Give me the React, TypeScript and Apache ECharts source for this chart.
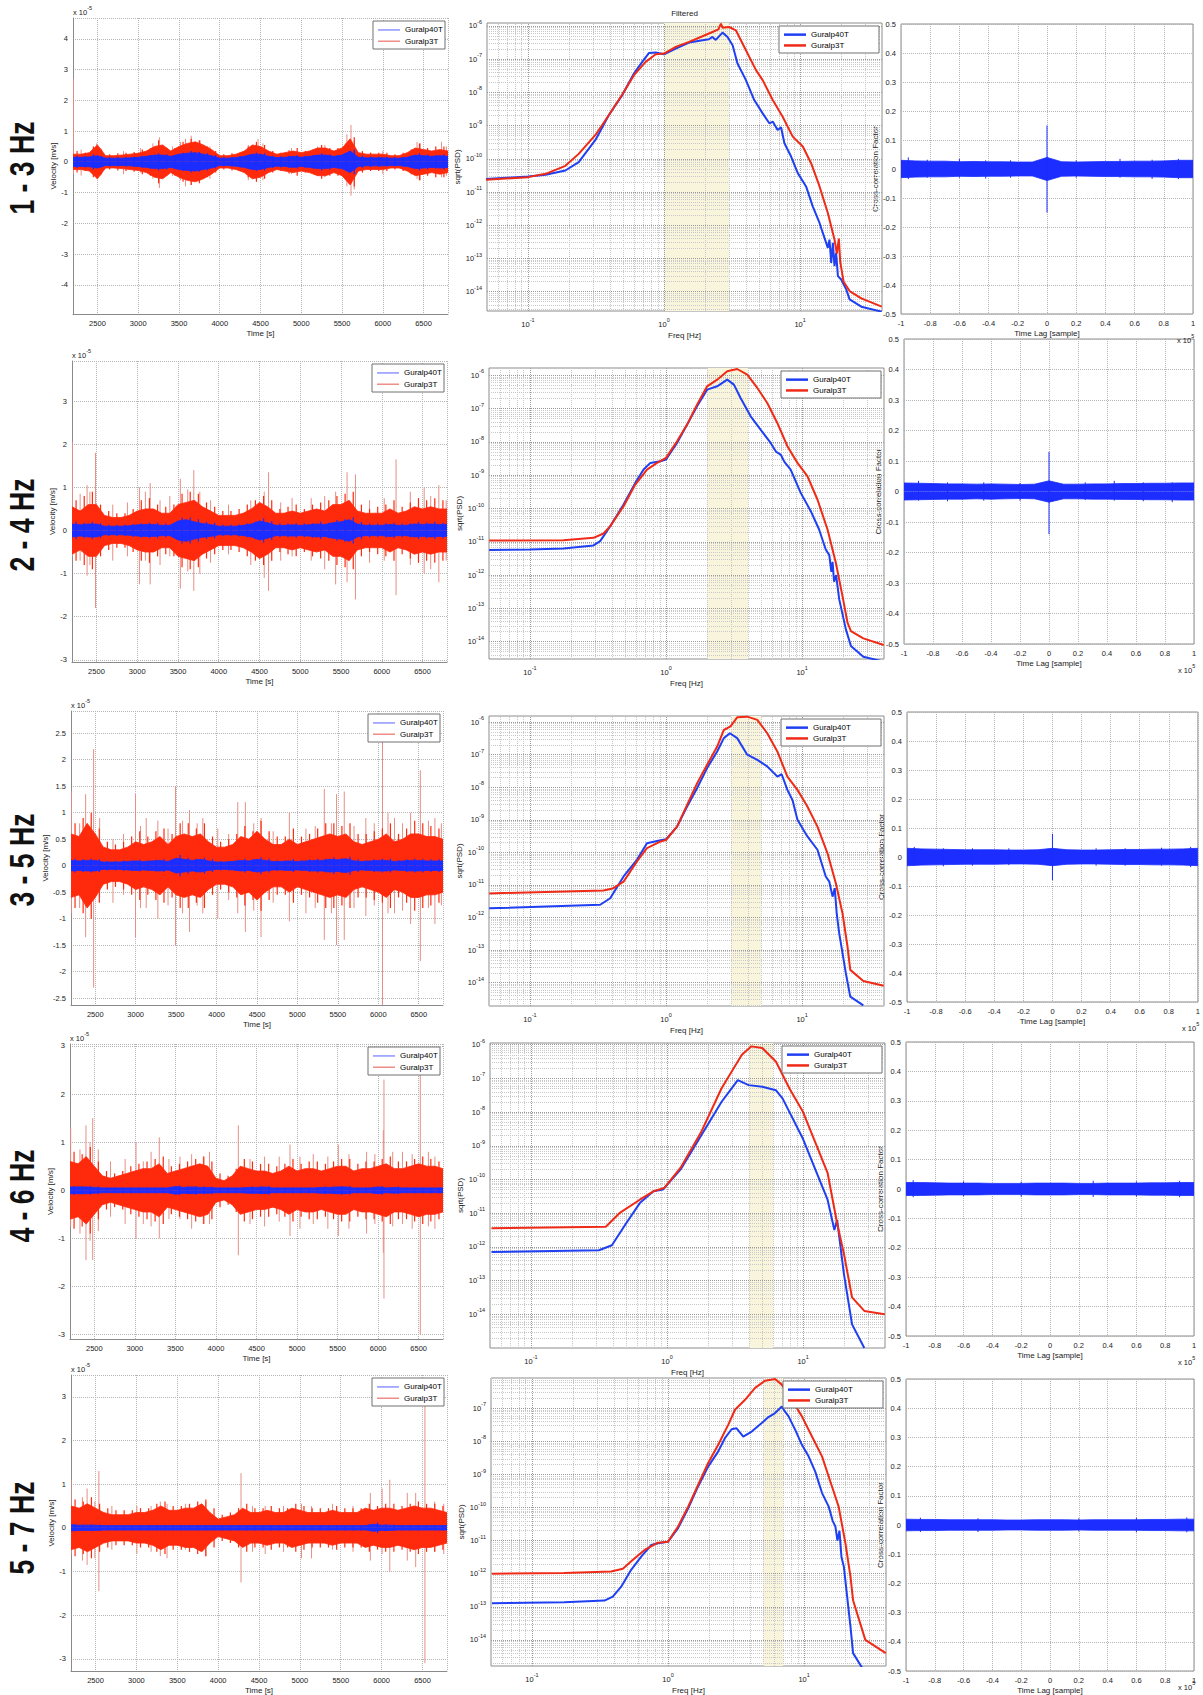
import React, { useEffect, useRef } from 'react';
import * as echarts from 'echarts';

// ---------------- DATA ----------------
const ROW_LABELS = ['1 - 3 Hz', '2 - 4 Hz', '3 - 5 Hz', '4 - 6 Hz', '5 - 7 Hz'];
const BANDS = [[1, 3], [2, 4], [3, 5], [4, 6], [5, 7]];
const SERIES_NAMES = ['Guralp40T', 'Guralp3T'];

// time grid of the velocity envelopes [s]
const TIME = [2200, 2300, 2400, 2500, 2600, 2700, 2800, 2900, 3000, 3100, 3200, 3300, 3400, 3500, 3600, 3700, 3800, 3900, 4000, 4100, 4200, 4300, 4400, 4500, 4600, 4700, 4800, 4900, 5000, 5100, 5200, 5300, 5400, 5500, 5600, 5700, 5800, 5900, 6000, 6100, 6200, 6300, 6400, 6500, 6600, 6700, 6800];
// time grid of the local peaks between envelope samples [s]
const PEAK_TIME = [2250, 2350, 2450, 2550, 2650, 2750, 2850, 2950, 3050, 3150, 3250, 3350, 3450, 3550, 3650, 3750, 3850, 3950, 4050, 4150, 4250, 4350, 4450, 4550, 4650, 4750, 4850, 4950, 5050, 5150, 5250, 5350, 5450, 5550, 5650, 5750, 5850, 5950, 6050, 6150, 6250, 6350, 6450, 6550, 6650, 6750];

// velocity envelopes (x 1e-5 m/s)
const RED_ENV_1 = [0.25, 0.25, 0.3, 0.55, 0.2, 0.2, 0.22, 0.25, 0.28, 0.35, 0.5, 0.55, 0.35, 0.5, 0.6, 0.65, 0.55, 0.4, 0.2, 0.2, 0.25, 0.35, 0.55, 0.5, 0.35, 0.25, 0.3, 0.35, 0.3, 0.35, 0.45, 0.45, 0.35, 0.45, 0.75, 0.3, 0.25, 0.25, 0.25, 0.2, 0.2, 0.3, 0.45, 0.4, 0.35, 0.4, 0.35];
const BLUE_ENV_1 = [0.15, 0.15, 0.16, 0.2, 0.12, 0.12, 0.12, 0.13, 0.15, 0.18, 0.22, 0.22, 0.18, 0.25, 0.28, 0.3, 0.25, 0.2, 0.12, 0.12, 0.14, 0.18, 0.25, 0.25, 0.18, 0.14, 0.15, 0.18, 0.15, 0.18, 0.22, 0.22, 0.18, 0.22, 0.35, 0.15, 0.13, 0.13, 0.13, 0.12, 0.12, 0.15, 0.22, 0.2, 0.18, 0.2, 0.18];
const RED_PEAKS_1 = [0.35, 0.3, 0.5, 0.4, 0.25, 0.28, 0.3, 0.32, 0.4, 0.45, 0.7, 0.45, 0.45, 0.65, 0.75, 0.7, 0.5, 0.35, 0.25, 0.28, 0.3, 0.5, 0.65, 0.55, 0.35, 0.3, 0.38, 0.45, 0.35, 0.4, 0.55, 0.45, 0.45, 0.6, 0.8, 0.35, 0.3, 0.3, 0.3, 0.25, 0.3, 0.4, 0.6, 0.45, 0.5, 0.5];
const BLUE_PEAKS_1 = [0.2, 0.18, 0.25, 0.18, 0.15, 0.15, 0.16, 0.17, 0.2, 0.22, 0.28, 0.25, 0.22, 0.3, 0.35, 0.32, 0.28, 0.22, 0.15, 0.16, 0.18, 0.22, 0.3, 0.28, 0.2, 0.18, 0.2, 0.22, 0.2, 0.22, 0.28, 0.25, 0.22, 0.28, 0.4, 0.2, 0.17, 0.17, 0.16, 0.15, 0.16, 0.2, 0.28, 0.24, 0.22, 0.25];
const RED_SPIKES_1 = [[2205, 2.7, 0.4], [2300, 0.4, 0.45], [2490, 0.6, 0.55], [2540, 0.45, 0.45], [2820, 0.35, 0.4], [3030, 0.45, 0.35], [3180, 0.6, 0.55], [3260, 0.8, 0.85], [3420, 0.5, 0.45], [3520, 0.65, 0.6], [3580, 0.75, 0.8], [3650, 0.85, 0.75], [3760, 0.7, 0.6], [3880, 0.5, 0.55], [4350, 0.55, 0.6], [4470, 0.75, 0.45], [4530, 0.6, 0.6], [4880, 0.45, 0.4], [5200, 0.5, 0.45], [5290, 0.55, 0.5], [5560, 0.9, 0.8], [5610, 1.2, 1.1], [5650, 0.7, 0.9], [6000, 0.35, 0.4], [6420, 0.65, 0.55], [6460, 0.6, 0.6], [6720, 0.65, 0.5], [6780, 0.5, 0.45]];

const RED_ENV_2 = [0.55, 0.45, 0.6, 0.6, 0.35, 0.3, 0.3, 0.35, 0.45, 0.5, 0.5, 0.4, 0.4, 0.6, 0.65, 0.7, 0.55, 0.45, 0.35, 0.35, 0.35, 0.4, 0.5, 0.65, 0.55, 0.4, 0.4, 0.45, 0.4, 0.45, 0.5, 0.45, 0.6, 0.6, 0.7, 0.45, 0.4, 0.4, 0.4, 0.5, 0.4, 0.45, 0.55, 0.5, 0.55, 0.5, 0.5];
const BLUE_ENV_2 = [0.15, 0.13, 0.15, 0.15, 0.1, 0.1, 0.1, 0.11, 0.13, 0.14, 0.14, 0.12, 0.12, 0.22, 0.25, 0.2, 0.16, 0.14, 0.1, 0.1, 0.1, 0.12, 0.15, 0.22, 0.18, 0.12, 0.12, 0.13, 0.12, 0.13, 0.15, 0.14, 0.18, 0.2, 0.25, 0.15, 0.12, 0.12, 0.12, 0.14, 0.12, 0.12, 0.15, 0.14, 0.15, 0.14, 0.14];
const RED_PEAKS_2 = [0.7, 0.8, 0.9, 0.6, 0.45, 0.4, 0.4, 0.5, 0.7, 0.75, 0.6, 0.55, 0.6, 0.85, 0.9, 0.85, 0.65, 0.55, 0.45, 0.45, 0.5, 0.6, 0.7, 0.8, 0.7, 0.5, 0.55, 0.6, 0.5, 0.6, 0.65, 0.7, 0.8, 0.85, 0.9, 0.6, 0.5, 0.55, 0.6, 0.7, 0.55, 0.65, 0.75, 0.7, 0.75, 0.7];
const BLUE_PEAKS_2 = [0.2, 0.18, 0.2, 0.17, 0.13, 0.13, 0.13, 0.15, 0.17, 0.18, 0.18, 0.16, 0.17, 0.3, 0.3, 0.26, 0.2, 0.18, 0.13, 0.13, 0.14, 0.16, 0.2, 0.28, 0.22, 0.16, 0.16, 0.17, 0.16, 0.17, 0.2, 0.18, 0.24, 0.26, 0.3, 0.2, 0.16, 0.16, 0.17, 0.18, 0.16, 0.16, 0.2, 0.18, 0.2, 0.18];
const RED_SPIKES_2 = [[2205, 2.05, 0.6], [2300, 0.85, 0.7], [2385, 1.05, 1.05], [2420, 0.9, 0.8], [2488, 1.8, 1.8], [2700, 0.6, 0.7], [2880, 0.65, 0.6], [3027, 1.0, 1.25], [3100, 0.9, 0.7], [3159, 1.1, 1.25], [3280, 0.7, 0.8], [3400, 0.8, 0.6], [3529, 1.2, 1.35], [3620, 0.95, 0.95], [3694, 1.4, 1.4], [3768, 0.9, 1.0], [3900, 0.7, 0.75], [4120, 0.6, 0.55], [4393, 0.7, 0.8], [4558, 0.9, 1.1], [4611, 1.35, 1.4], [4760, 0.65, 0.7], [4900, 0.75, 0.6], [5134, 0.75, 0.7], [5300, 0.8, 0.9], [5434, 0.9, 1.25], [5574, 1.35, 1.2], [5677, 1.3, 1.6], [5850, 0.7, 0.75], [6030, 0.75, 0.7], [6175, 1.65, 1.5], [6350, 0.9, 0.8], [6520, 1.0, 1.0], [6600, 0.8, 0.9], [6700, 1.05, 1.2], [6790, 0.7, 0.7]];

const RED_ENV_3 = [0.6, 0.55, 0.8, 0.6, 0.35, 0.3, 0.3, 0.35, 0.45, 0.4, 0.45, 0.55, 0.4, 0.55, 0.6, 0.55, 0.6, 0.45, 0.35, 0.35, 0.4, 0.55, 0.5, 0.65, 0.5, 0.4, 0.4, 0.5, 0.4, 0.45, 0.5, 0.55, 0.6, 0.55, 0.6, 0.45, 0.4, 0.45, 0.5, 0.6, 0.45, 0.5, 0.6, 0.6, 0.55, 0.55, 0.5];
const BLUE_ENV_3 = [0.1, 0.09, 0.1, 0.1, 0.07, 0.07, 0.07, 0.08, 0.09, 0.08, 0.09, 0.1, 0.08, 0.14, 0.12, 0.1, 0.12, 0.09, 0.07, 0.07, 0.08, 0.1, 0.09, 0.12, 0.1, 0.08, 0.08, 0.09, 0.08, 0.09, 0.1, 0.1, 0.12, 0.11, 0.13, 0.09, 0.08, 0.09, 0.1, 0.1, 0.08, 0.09, 0.1, 0.1, 0.09, 0.09, 0.09];
const RED_PEAKS_3 = [0.8, 0.9, 1.0, 0.7, 0.45, 0.4, 0.45, 0.55, 0.65, 0.55, 0.65, 0.7, 0.6, 0.8, 0.8, 0.7, 0.8, 0.55, 0.45, 0.5, 0.6, 0.75, 0.65, 0.85, 0.65, 0.55, 0.55, 0.7, 0.55, 0.6, 0.7, 0.8, 0.8, 0.75, 0.8, 0.6, 0.6, 0.65, 0.7, 0.8, 0.6, 0.7, 0.85, 0.8, 0.75, 0.7];
const BLUE_PEAKS_3 = [0.13, 0.12, 0.13, 0.12, 0.09, 0.09, 0.1, 0.1, 0.11, 0.1, 0.11, 0.12, 0.11, 0.2, 0.15, 0.13, 0.15, 0.12, 0.09, 0.09, 0.1, 0.13, 0.12, 0.16, 0.13, 0.1, 0.1, 0.12, 0.1, 0.12, 0.13, 0.13, 0.16, 0.14, 0.17, 0.12, 0.1, 0.12, 0.13, 0.13, 0.1, 0.12, 0.13, 0.13, 0.12, 0.12];
const RED_SPIKES_3 = [[2204, 1.4, 0.9], [2307, 0.8, 0.8], [2381, 1.35, 1.35], [2480, 2.2, 2.3], [2554, 0.9, 0.6], [2719, 0.5, 0.7], [2850, 0.6, 0.55], [2998, 1.35, 1.35], [3060, 0.75, 0.8], [3130, 0.9, 0.8], [3274, 0.85, 1.0], [3400, 0.7, 0.75], [3492, 1.5, 1.5], [3580, 0.85, 0.9], [3665, 1.05, 1.25], [3760, 0.8, 0.75], [3830, 0.9, 0.9], [4015, 0.7, 1.0], [4150, 0.6, 0.65], [4262, 1.2, 0.9], [4356, 1.2, 1.25], [4460, 0.8, 0.85], [4550, 0.9, 1.35], [4700, 0.65, 0.7], [4900, 1.0, 1.05], [5105, 0.7, 0.9], [5220, 0.75, 0.8], [5332, 1.45, 1.4], [5420, 0.8, 0.9], [5484, 1.35, 1.5], [5579, 1.4, 1.4], [5700, 0.75, 0.8], [5846, 0.9, 0.95], [5950, 0.8, 0.75], [6052, 2.6, 2.65], [6120, 1.0, 0.9], [6200, 0.9, 0.9], [6300, 0.8, 0.85], [6400, 1.0, 1.1], [6520, 1.8, 1.8], [6620, 0.85, 0.8], [6700, 0.9, 1.1], [6780, 0.8, 0.75]];

const RED_ENV_4 = [0.6, 0.55, 0.7, 0.5, 0.3, 0.25, 0.3, 0.35, 0.4, 0.45, 0.45, 0.55, 0.35, 0.4, 0.45, 0.5, 0.55, 0.5, 0.25, 0.2, 0.3, 0.5, 0.45, 0.4, 0.4, 0.35, 0.4, 0.5, 0.4, 0.45, 0.45, 0.4, 0.45, 0.5, 0.5, 0.4, 0.45, 0.45, 0.5, 0.55, 0.45, 0.45, 0.5, 0.55, 0.5, 0.5, 0.45];
const BLUE_ENV_4 = [0.07, 0.07, 0.07, 0.06, 0.05, 0.05, 0.05, 0.05, 0.05, 0.05, 0.05, 0.05, 0.05, 0.08, 0.06, 0.07, 0.06, 0.06, 0.05, 0.05, 0.05, 0.05, 0.06, 0.06, 0.07, 0.05, 0.05, 0.05, 0.05, 0.05, 0.05, 0.06, 0.06, 0.07, 0.07, 0.05, 0.05, 0.05, 0.07, 0.05, 0.06, 0.05, 0.05, 0.05, 0.05, 0.05, 0.05];
const RED_PEAKS_4 = [0.8, 0.75, 0.9, 0.6, 0.4, 0.35, 0.4, 0.5, 0.55, 0.6, 0.65, 0.7, 0.5, 0.55, 0.6, 0.65, 0.7, 0.6, 0.35, 0.3, 0.45, 0.65, 0.6, 0.55, 0.55, 0.5, 0.55, 0.65, 0.55, 0.6, 0.6, 0.55, 0.6, 0.65, 0.65, 0.55, 0.6, 0.6, 0.65, 0.7, 0.6, 0.6, 0.65, 0.7, 0.65, 0.6];
const BLUE_PEAKS_4 = [0.09, 0.08, 0.09, 0.08, 0.06, 0.06, 0.06, 0.06, 0.06, 0.06, 0.06, 0.06, 0.06, 0.1, 0.08, 0.09, 0.08, 0.08, 0.06, 0.06, 0.06, 0.06, 0.08, 0.08, 0.09, 0.06, 0.06, 0.06, 0.06, 0.06, 0.06, 0.08, 0.08, 0.09, 0.09, 0.06, 0.06, 0.07, 0.09, 0.06, 0.08, 0.06, 0.06, 0.06, 0.06, 0.06];
const RED_SPIKES_4 = [[2208, 1.3, 0.75], [2323, 0.85, 0.9], [2397, 1.35, 1.45], [2447, 1.0, 1.05], [2480, 1.5, 1.45], [2549, 0.85, 0.85], [2700, 0.6, 0.55], [2880, 0.65, 0.7], [3014, 1.0, 1.0], [3104, 0.6, 0.7], [3200, 0.8, 0.75], [3301, 1.1, 1.0], [3420, 0.65, 0.6], [3556, 0.7, 0.6], [3700, 0.75, 0.8], [3844, 0.7, 0.7], [3920, 0.8, 0.7], [4276, 1.35, 1.35], [4420, 0.65, 0.7], [4600, 0.7, 0.75], [4780, 0.7, 0.65], [4913, 0.95, 0.95], [5036, 0.7, 0.8], [5200, 0.75, 0.7], [5380, 0.7, 0.8], [5509, 0.95, 0.95], [5640, 0.75, 0.8], [5858, 0.8, 0.9], [5960, 0.75, 0.7], [6064, 1.25, 1.3], [6072, 2.3, 2.25], [6180, 0.8, 0.75], [6300, 0.8, 0.7], [6420, 0.75, 0.8], [6520, 2.9, 3.0], [6620, 0.8, 0.75], [6700, 0.7, 0.8]];

const RED_ENV_5 = [0.5, 0.45, 0.55, 0.45, 0.35, 0.3, 0.3, 0.3, 0.35, 0.35, 0.4, 0.5, 0.4, 0.4, 0.45, 0.45, 0.55, 0.35, 0.2, 0.25, 0.3, 0.45, 0.35, 0.35, 0.4, 0.35, 0.35, 0.45, 0.4, 0.35, 0.35, 0.35, 0.4, 0.35, 0.35, 0.35, 0.45, 0.4, 0.45, 0.45, 0.4, 0.45, 0.5, 0.45, 0.45, 0.4, 0.35];
const BLUE_ENV_5 = [0.07, 0.06, 0.06, 0.06, 0.05, 0.05, 0.05, 0.05, 0.05, 0.05, 0.05, 0.05, 0.05, 0.05, 0.05, 0.05, 0.05, 0.05, 0.05, 0.05, 0.05, 0.05, 0.05, 0.05, 0.05, 0.05, 0.05, 0.05, 0.05, 0.05, 0.05, 0.05, 0.05, 0.05, 0.05, 0.05, 0.05, 0.08, 0.06, 0.06, 0.05, 0.05, 0.05, 0.05, 0.05, 0.05, 0.05];
const RED_PEAKS_5 = [0.65, 0.6, 0.7, 0.55, 0.45, 0.4, 0.4, 0.4, 0.45, 0.45, 0.55, 0.6, 0.5, 0.5, 0.55, 0.6, 0.65, 0.45, 0.3, 0.35, 0.45, 0.55, 0.45, 0.45, 0.5, 0.45, 0.45, 0.55, 0.5, 0.45, 0.45, 0.45, 0.5, 0.45, 0.45, 0.45, 0.55, 0.5, 0.55, 0.55, 0.5, 0.55, 0.6, 0.55, 0.55, 0.5];
const BLUE_PEAKS_5 = [0.08, 0.07, 0.08, 0.07, 0.06, 0.06, 0.06, 0.06, 0.06, 0.06, 0.06, 0.06, 0.06, 0.06, 0.06, 0.06, 0.06, 0.06, 0.06, 0.06, 0.06, 0.06, 0.06, 0.06, 0.06, 0.06, 0.06, 0.06, 0.06, 0.06, 0.06, 0.06, 0.06, 0.06, 0.06, 0.06, 0.07, 0.12, 0.08, 0.07, 0.06, 0.06, 0.06, 0.06, 0.06, 0.06];
const RED_SPIKES_5 = [[2200, 1.1, 0.6], [2340, 0.7, 0.75], [2397, 0.9, 0.85], [2492, 0.6, 0.7], [2541, 1.3, 1.45], [2700, 0.5, 0.5], [3006, 0.5, 0.6], [3180, 0.5, 0.55], [3293, 0.6, 0.65], [3375, 0.55, 0.7], [3600, 0.55, 0.5], [3848, 0.6, 0.65], [4280, 1.25, 1.25], [4420, 0.5, 0.55], [4576, 0.5, 0.6], [4800, 0.5, 0.55], [5020, 0.55, 0.7], [5143, 0.5, 0.7], [5400, 0.55, 0.5], [5650, 0.5, 0.55], [5862, 0.8, 0.75], [6006, 0.9, 0.6], [6100, 1.1, 1.0], [6314, 0.8, 0.75], [6417, 0.8, 0.9], [6530, 3.1, 3.1], [6650, 0.6, 0.55], [6760, 0.55, 0.6]];

// sqrt(PSD) curves as [log10(freq Hz), log10(sqrt PSD)]
const PSD_BLUE_1 = [[-1.31, -10.61], [-1.0, -10.53], [-0.87, -10.48], [-0.725, -10.35], [-0.627, -10.1], [-0.504, -9.43], [-0.405, -8.68], [-0.307, -8.08], [-0.221, -7.43], [-0.16, -7.08], [-0.11, -6.81], [-0.061, -6.8], [0, -6.85], [0.086, -6.68], [0.184, -6.5], [0.283, -6.43], [0.33, -6.4], [0.356, -6.33], [0.38, -6.42], [0.43, -6.2], [0.467, -6.33], [0.504, -6.58], [0.54, -7.13], [0.602, -7.63], [0.663, -8.23], [0.725, -8.63], [0.774, -8.93], [0.8, -8.88], [0.835, -9.13], [0.86, -9.05], [0.885, -9.53], [0.934, -9.93], [0.983, -10.43], [1.044, -10.83], [1.093, -11.43], [1.143, -11.93], [1.167, -12.23], [1.204, -12.68], [1.216, -12.43], [1.229, -13.13], [1.241, -12.53], [1.253, -13.23], [1.265, -12.83], [1.278, -13.53], [1.302, -13.63], [1.339, -13.93], [1.364, -14.23], [1.45, -14.45], [1.6, -14.6]];
const PSD_RED_1 = [[-1.31, -10.63], [-1.0, -10.55], [-0.87, -10.45], [-0.725, -10.21], [-0.627, -9.85], [-0.504, -9.28], [-0.405, -8.68], [-0.307, -8.06], [-0.221, -7.48], [-0.135, -7.08], [-0.061, -6.85], [0, -6.83], [0.086, -6.63], [0.184, -6.48], [0.283, -6.31], [0.356, -6.18], [0.4, -6.1], [0.418, -5.93], [0.43, -6.05], [0.479, -6.03], [0.528, -6.13], [0.602, -6.73], [0.676, -7.33], [0.725, -7.63], [0.799, -8.23], [0.872, -8.73], [0.946, -9.33], [1.02, -9.63], [1.081, -10.13], [1.143, -10.83], [1.204, -11.63], [1.253, -12.43], [1.27, -12.85], [1.285, -12.4], [1.295, -13.1], [1.32, -13.7], [1.364, -13.98], [1.45, -14.2], [1.6, -14.45]];

const PSD_BLUE_2 = [[-1.3, -11.25], [-1.0, -11.23], [-0.754, -11.2], [-0.533, -11.11], [-0.484, -10.98], [-0.41, -10.53], [-0.312, -9.88], [-0.226, -9.23], [-0.165, -8.83], [-0.115, -8.63], [-0.042, -8.58], [0, -8.53], [0.081, -8.03], [0.155, -7.48], [0.228, -6.93], [0.302, -6.43], [0.376, -6.33], [0.45, -6.13], [0.499, -6.28], [0.548, -6.68], [0.622, -7.23], [0.695, -7.63], [0.769, -8.03], [0.81, -8.3], [0.843, -8.38], [0.87, -8.6], [0.916, -8.83], [0.99, -9.53], [1.064, -10.08], [1.125, -10.63], [1.174, -11.23], [1.2, -11.4], [1.215, -11.9], [1.224, -11.6], [1.235, -12.2], [1.25, -12.0], [1.273, -12.73], [1.322, -13.63], [1.359, -14.13], [1.45, -14.45], [1.6, -14.6]];
const PSD_RED_2 = [[-1.3, -10.96], [-0.754, -10.95], [-0.533, -10.88], [-0.459, -10.75], [-0.41, -10.53], [-0.312, -9.93], [-0.226, -9.28], [-0.14, -8.83], [-0.066, -8.63], [0, -8.48], [0.081, -7.98], [0.155, -7.48], [0.228, -6.88], [0.302, -6.33], [0.376, -6.13], [0.45, -5.88], [0.523, -5.81], [0.597, -5.98], [0.671, -6.38], [0.744, -6.83], [0.818, -7.43], [0.892, -8.13], [0.966, -8.63], [1.039, -9.03], [1.113, -9.73], [1.187, -10.63], [1.248, -11.63], [1.297, -12.63], [1.334, -13.43], [1.359, -13.68], [1.45, -13.9], [1.6, -14.1]];

const PSD_BLUE_3 = [[-1.3, -11.72], [-0.484, -11.61], [-0.41, -11.41], [-0.312, -10.74], [-0.214, -10.23], [-0.14, -9.72], [-0.066, -9.65], [0, -9.6], [0.081, -9.21], [0.155, -8.59], [0.228, -8.03], [0.302, -7.41], [0.376, -6.9], [0.425, -6.49], [0.469, -6.34], [0.523, -6.49], [0.597, -7.0], [0.671, -7.16], [0.744, -7.36], [0.79, -7.55], [0.818, -7.67], [0.85, -7.6], [0.892, -8.08], [0.93, -8.4], [0.966, -9.0], [1.039, -9.51], [1.113, -9.92], [1.174, -10.74], [1.2, -10.9], [1.224, -11.36], [1.24, -11.1], [1.255, -11.9], [1.273, -12.49], [1.322, -13.72], [1.354, -14.43], [1.45, -14.7]];
const PSD_RED_3 = [[-1.3, -11.26], [-0.459, -11.17], [-0.386, -11.1], [-0.312, -10.9], [-0.214, -10.28], [-0.14, -9.87], [-0.042, -9.67], [0, -9.62], [0.081, -9.21], [0.155, -8.54], [0.228, -7.88], [0.302, -7.31], [0.376, -6.75], [0.425, -6.24], [0.474, -6.13], [0.523, -5.85], [0.597, -5.83], [0.671, -5.93], [0.744, -6.34], [0.818, -6.9], [0.892, -7.67], [0.966, -8.08], [1.039, -8.59], [1.113, -9.21], [1.187, -10.03], [1.248, -10.95], [1.297, -11.87], [1.334, -12.9], [1.354, -13.61], [1.45, -13.95], [1.6, -14.1]];

const PSD_BLUE_4 = [[-1.29, -12.15], [-0.5, -12.1], [-0.405, -11.95], [-0.3, -11.3], [-0.2, -10.7], [-0.1, -10.35], [-0.03, -10.3], [0.1, -9.7], [0.25, -8.7], [0.4, -7.7], [0.52, -7.05], [0.6, -7.2], [0.7, -7.25], [0.8, -7.35], [0.85, -7.6], [0.9, -8.0], [1.0, -8.8], [1.08, -9.6], [1.18, -10.6], [1.23, -11.5], [1.25, -11.2], [1.3, -12.8], [1.36, -14.3], [1.45, -15.0]];
const PSD_RED_4 = [[-1.29, -11.45], [-0.45, -11.4], [-0.35, -11.0], [-0.2, -10.6], [-0.1, -10.35], [-0.02, -10.25], [0.1, -9.65], [0.25, -8.6], [0.4, -7.3], [0.55, -6.3], [0.62, -6.05], [0.7, -6.1], [0.8, -6.5], [0.9, -7.3], [1.0, -8.0], [1.08, -8.8], [1.18, -9.8], [1.25, -11.3], [1.3, -12.2], [1.36, -13.5], [1.45, -13.9], [1.6, -14.0]];

const PSD_BLUE_5 = [[-1.294, -12.89], [-0.763, -12.86], [-0.467, -12.81], [-0.406, -12.69], [-0.344, -12.39], [-0.271, -11.88], [-0.197, -11.48], [-0.123, -11.13], [-0.074, -11.08], [0, -11.03], [0.074, -10.62], [0.148, -10.02], [0.221, -9.36], [0.295, -8.76], [0.369, -8.3], [0.418, -7.9], [0.467, -7.63], [0.504, -7.6], [0.553, -7.85], [0.615, -7.7], [0.689, -7.44], [0.738, -7.26], [0.787, -7.14], [0.836, -6.94], [0.86, -7.1], [0.886, -7.24], [0.935, -7.65], [0.984, -8.1], [1.033, -8.45], [1.082, -8.91], [1.132, -9.56], [1.181, -9.97], [1.21, -10.4], [1.23, -10.57], [1.245, -11.0], [1.26, -10.7], [1.275, -11.5], [1.292, -11.78], [1.341, -13.6], [1.36, -14.4], [1.45, -15.0]];
const PSD_RED_5 = [[-1.294, -12.0], [-0.763, -11.98], [-0.418, -11.93], [-0.332, -11.85], [-0.258, -11.58], [-0.172, -11.28], [-0.074, -11.06], [0, -11.03], [0.074, -10.57], [0.148, -9.97], [0.221, -9.31], [0.295, -8.65], [0.369, -8.1], [0.443, -7.49], [0.492, -7.04], [0.566, -6.74], [0.64, -6.38], [0.713, -6.16], [0.787, -6.11], [0.836, -6.28], [0.91, -6.74], [0.984, -7.24], [1.058, -7.85], [1.132, -8.45], [1.205, -9.36], [1.254, -9.97], [1.304, -11.08], [1.341, -12.09], [1.36, -12.8], [1.45, -14.0], [1.6, -14.4]];

// cross-correlation: lag grid (x 1e5 samples), band envelopes, spikes [lag, up, down]
const XCORR_LAG = [-1, -0.9, -0.8, -0.7, -0.6, -0.5, -0.4, -0.3, -0.2, -0.1, 0, 0.1, 0.2, 0.3, 0.4, 0.5, 0.6, 0.7, 0.8, 0.9, 1];
const XCORR_ENV_1 = [0.03, 0.028, 0.027, 0.027, 0.025, 0.026, 0.025, 0.025, 0.024, 0.024, 0.04, 0.025, 0.024, 0.025, 0.026, 0.026, 0.027, 0.027, 0.028, 0.03, 0.03];
const XCORR_ENV_2 = [0.028, 0.027, 0.026, 0.025, 0.025, 0.024, 0.025, 0.024, 0.023, 0.024, 0.035, 0.024, 0.024, 0.025, 0.025, 0.026, 0.026, 0.027, 0.027, 0.028, 0.028];
const XCORR_ENV_3 = [0.03, 0.028, 0.027, 0.026, 0.025, 0.025, 0.025, 0.024, 0.024, 0.025, 0.03, 0.025, 0.024, 0.024, 0.025, 0.026, 0.026, 0.027, 0.027, 0.028, 0.03];
const XCORR_ENV_4 = [0.022, 0.022, 0.021, 0.02, 0.02, 0.02, 0.019, 0.019, 0.019, 0.02, 0.02, 0.02, 0.019, 0.019, 0.02, 0.02, 0.02, 0.021, 0.021, 0.022, 0.022];
const XCORR_ENV_5 = [0.02, 0.019, 0.019, 0.018, 0.018, 0.018, 0.018, 0.017, 0.017, 0.018, 0.018, 0.018, 0.017, 0.018, 0.018, 0.018, 0.018, 0.019, 0.019, 0.02, 0.02];
const XCORR_SPIKES_1 = [[0, 0.15, 0.15], [-0.95, 0.04, 0.035], [-0.82, 0.032, 0.03], [-0.6, 0.035, 0.03], [-0.42, 0.03, 0.033], [-0.25, 0.03, 0.03], [0.2, 0.03, 0.03], [0.5, 0.035, 0.03], [0.72, 0.032, 0.034], [0.9, 0.035, 0.035]];
const XCORR_SPIKES_2 = [[0, 0.13, 0.14], [-0.9, 0.035, 0.03], [-0.7, 0.03, 0.032], [-0.45, 0.03, 0.03], [-0.2, 0.028, 0.03], [0.25, 0.03, 0.028], [0.45, 0.035, 0.03], [0.65, 0.03, 0.032], [0.85, 0.03, 0.035]];
const XCORR_SPIKES_3 = [[0, 0.08, 0.08], [-0.95, 0.035, 0.03], [-0.75, 0.03, 0.032], [-0.55, 0.03, 0.03], [-0.3, 0.03, 0.028], [0.3, 0.03, 0.03], [0.5, 0.03, 0.03], [0.75, 0.032, 0.03], [0.95, 0.035, 0.035]];
const XCORR_SPIKES_4 = [[-0.95, 0.03, 0.028], [-0.6, 0.026, 0.025], [-0.2, 0.025, 0.026], [0.3, 0.028, 0.027], [0.6, 0.026, 0.026], [0.9, 0.028, 0.028]];
const XCORR_SPIKES_5 = [[-0.9, 0.025, 0.024], [-0.5, 0.023, 0.024], [0.2, 0.023, 0.022], [0.6, 0.025, 0.025], [0.95, 0.026, 0.025]];

const RED_ENVS = [RED_ENV_1, RED_ENV_2, RED_ENV_3, RED_ENV_4, RED_ENV_5];
const BLUE_ENVS = [BLUE_ENV_1, BLUE_ENV_2, BLUE_ENV_3, BLUE_ENV_4, BLUE_ENV_5];
const RED_PEAKS = [RED_PEAKS_1, RED_PEAKS_2, RED_PEAKS_3, RED_PEAKS_4, RED_PEAKS_5];
const BLUE_PEAKS = [BLUE_PEAKS_1, BLUE_PEAKS_2, BLUE_PEAKS_3, BLUE_PEAKS_4, BLUE_PEAKS_5];
const RED_SPIKES = [RED_SPIKES_1, RED_SPIKES_2, RED_SPIKES_3, RED_SPIKES_4, RED_SPIKES_5];
const PSD_BLUES = [PSD_BLUE_1, PSD_BLUE_2, PSD_BLUE_3, PSD_BLUE_4, PSD_BLUE_5];
const PSD_REDS = [PSD_RED_1, PSD_RED_2, PSD_RED_3, PSD_RED_4, PSD_RED_5];
const XCORR_ENVS = [XCORR_ENV_1, XCORR_ENV_2, XCORR_ENV_3, XCORR_ENV_4, XCORR_ENV_5];
const XCORR_SPIKES = [XCORR_SPIKES_1, XCORR_SPIKES_2, XCORR_SPIKES_3, XCORR_SPIKES_4, XCORR_SPIKES_5];

// ---------------- LAYOUT ----------------
// [left, top, width, height] in px; y ranges
const LAYOUT = [
  { labelY: 168, L: [73, 18, 375, 296], Ly: [-4.95, 4.68, 10], M: [487, 23, 395, 288], My: [-14.58, -5.91], R: [901, 24, 292, 290] },
  { labelY: 525, L: [72, 361, 375, 301], Ly: [-3.05, 3.93, 7], M: [489, 368, 395, 291], My: [-14.52, -5.78], R: [904, 339, 290, 305] },
  { labelY: 860, L: [71, 711, 372, 294], Ly: [-2.63, 2.92, 11], M: [489, 716, 395, 290], My: [-14.72, -5.81], R: [907, 712, 291, 290] },
  { labelY: 1196, L: [70, 1044, 373, 295], Ly: [-3.09, 3.04, 6], M: [490, 1043, 395, 305], My: [-15.0, -5.95], R: [906, 1042, 288, 294] },
  { labelY: 1528, L: [71, 1375, 376, 298], Ly: [-3.28, 3.5, 7], M: [491, 1378, 395, 288], My: [-14.79, -6.08], R: [906, 1379, 288, 293] },
];

const FONT = '"Liberation Sans", Arial, Helvetica, sans-serif';
const TXT = '#1a1a1a';
const BLUE = '#1b2dff';
const RED = '#ff2a0c';
const PALE_RED = '#e58f86';
const PSD_BLUE = '#1f3ff2';
const PSD_RED = '#ef2a16';
const BAND_FILL = '#f8f5dc';
const F_MIN = 0.05;
const F_MAX = 40;
const PAGE_H = 1695;

const gridLine = { show: true, lineStyle: { type: 'dotted', color: '#b4b4b4', width: 1 } };
const tickLabel = { fontFamily: FONT, fontSize: 7.5, color: TXT };
const nameStyle = { fontFamily: FONT, fontSize: 8, color: TXT };

function powLabel(v: number) {
  const lg = Math.log10(v);
  const n = Math.round(lg);
  if (Math.abs(lg - n) > 1e-3) return '';
  return '{b|10}{s|' + n + '}';
}
const powRich = {
  b: { fontFamily: FONT, fontSize: 7.5, color: TXT, lineHeight: 14, verticalAlign: 'middle' },
  s: { fontFamily: FONT, fontSize: 5.5, color: TXT, verticalAlign: 'top', lineHeight: 7 },
};

function logLines(min: number, max: number, key: string) {
  const out: any[] = [];
  const n0 = Math.floor(Math.log10(min));
  const n1 = Math.ceil(Math.log10(max));
  for (let n = n0; n <= n1; n++) {
    for (let k = 1; k <= 9; k++) {
      const v = k * Math.pow(10, n);
      if (v > min * 1.002 && v < max * 0.998) {
        out.push({
          [key]: v,
          lineStyle: k === 1
            ? { type: 'dotted', color: '#9a9a9a', width: 1 }
            : { type: 'dotted', color: '#c8c8c8', width: 1 },
        });
      }
    }
  }
  return out;
}

function spikeRenderer(color: string, width: number) {
  return (params: any, api: any) => {
    const t = api.value(0);
    const a = api.coord([t, api.value(1)]);
    const b = api.coord([t, -api.value(2)]);
    return {
      type: 'line',
      shape: { x1: a[0], y1: a[1], x2: b[0], y2: b[1] },
      style: { stroke: color, lineWidth: width },
    };
  };
}

function legendGraphic(x: number, y: number, w: number, h: number, lw: number, c1: string, c2: string) {
  const y1 = y + h * 0.32;
  const y2 = y + h * 0.72;
  const Z = 100;
  const txt = (ty: number, s: string) => ({
    type: 'text', x: x + 32, y: ty, z: Z + 1,
    style: { text: s, fontFamily: FONT, fontSize: 8, fill: '#000', align: 'left', verticalAlign: 'middle', textAlign: 'left', textVerticalAlign: 'middle' },
  });
  return [
    { type: 'rect', z: Z, shape: { x, y, width: w, height: h }, style: { fill: '#fff', stroke: '#707070', lineWidth: 1 } },
    { type: 'line', z: Z + 1, shape: { x1: x + 5, y1, x2: x + 27, y2: y1 }, style: { stroke: c1, lineWidth: lw } },
    { type: 'line', z: Z + 1, shape: { x1: x + 5, y1: y2, x2: x + 27, y2 }, style: { stroke: c2, lineWidth: lw } },
    txt(y1, SERIES_NAMES[0]),
    txt(y2, SERIES_NAMES[1]),
  ];
}

function expText(x: number, y: number, exp: string) {
  return {
    type: 'text', x, y, z: 100,
    style: {
      text: '{a|x 10}{e|' + exp + '}', align: 'left', verticalAlign: 'middle', textAlign: 'left', textVerticalAlign: 'middle',
      rich: {
        a: { fontFamily: FONT, fontSize: 7.5, fill: TXT, color: TXT, lineHeight: 14, verticalAlign: 'middle' },
        e: { fontFamily: FONT, fontSize: 5.5, fill: TXT, color: TXT, verticalAlign: 'top' },
      },
    },
  };
}

function buildOption() {
  const grid: any[] = [];
  const xAxis: any[] = [];
  const yAxis: any[] = [];
  const series: any[] = [];
  const graphic: any[] = [];

  LAYOUT.forEach((lay, r) => {
    // ---------- left: velocity ----------
    const gl = grid.length;
    grid.push({ left: lay.L[0], top: lay.L[1], width: lay.L[2], height: lay.L[3], show: false });
    xAxis.push({
      type: 'value', gridIndex: gl, min: 2200, max: 6800, splitNumber: 9,
      axisLine: { show: true, onZero: false, lineStyle: { color: '#8a8a8a' } },
      axisTick: { show: false },
      axisLabel: { ...tickLabel, margin: 5, showMinLabel: false, showMaxLabel: false, formatter: (v: number) => String(v) },
      splitLine: gridLine,
      name: 'Time [s]', nameLocation: 'middle', nameGap: 15, nameTextStyle: nameStyle,
    });
    yAxis.push({
      type: 'value', gridIndex: gl, min: lay.Ly[0], max: lay.Ly[1], splitNumber: lay.Ly[2],
      axisLine: { show: true, onZero: false, lineStyle: { color: '#8a8a8a' } },
      axisTick: { show: false },
      axisLabel: { ...tickLabel, margin: 5, showMinLabel: false, showMaxLabel: false },
      splitLine: gridLine,
      name: 'Velocity [m/s]', nameLocation: 'middle', nameGap: 12, nameTextStyle: nameStyle,
    });
    series.push({
      type: 'custom', name: SERIES_NAMES[1] + ' peaks', xAxisIndex: gl, yAxisIndex: gl, z: 2, silent: true, clip: true,
      renderItem: spikeRenderer(PALE_RED, 1), encode: { x: 0, y: 1 },
      data: RED_SPIKES[r],
    });
    const redEnv = RED_ENVS[r];
    const blueEnv = BLUE_ENVS[r];
    [1, -1].forEach((sg) => {
      series.push({
        type: 'line', name: SERIES_NAMES[1], xAxisIndex: gl, yAxisIndex: gl, z: 3, silent: true,
        symbol: 'none', data: redEnv.map((v, i) => [TIME[i], sg * v]),
        lineStyle: { color: RED, width: 0.8 }, areaStyle: { color: RED, opacity: 1 },
      });
    });
    series.push({
      type: 'custom', name: SERIES_NAMES[1] + ' local', xAxisIndex: gl, yAxisIndex: gl, z: 3, silent: true, clip: true,
      renderItem: spikeRenderer(RED, 1.2), encode: { x: 0, y: 1 },
      data: RED_PEAKS[r].map((v, i) => [PEAK_TIME[i], v, v]),
    });
    [1, -1].forEach((sg) => {
      series.push({
        type: 'line', name: SERIES_NAMES[0], xAxisIndex: gl, yAxisIndex: gl, z: 4, silent: true,
        symbol: 'none', data: blueEnv.map((v, i) => [TIME[i], sg * v]),
        lineStyle: { color: BLUE, width: 0.8 }, areaStyle: { color: BLUE, opacity: 1 },
      });
    });
    series.push({
      type: 'custom', name: SERIES_NAMES[0] + ' local', xAxisIndex: gl, yAxisIndex: gl, z: 4, silent: true, clip: true,
      renderItem: spikeRenderer(BLUE, 1.2), encode: { x: 0, y: 1 },
      data: BLUE_PEAKS[r].map((v, i) => [PEAK_TIME[i], v, v]),
    });
    graphic.push(expText(lay.L[0], lay.L[1] - 6, '-5'));
    graphic.push(...legendGraphic(lay.L[0] + lay.L[2] - 75, lay.L[1] + 3, 72, 28, 1, '#5560ff', '#e4554b'));

    // ---------- middle: PSD ----------
    const gm = grid.length;
    const yMin = Math.pow(10, lay.My[0]);
    const yMax = Math.pow(10, lay.My[1]);
    grid.push({ left: lay.M[0], top: lay.M[1], width: lay.M[2], height: lay.M[3], show: true, borderColor: '#8c8c8c', borderWidth: 1, backgroundColor: 'transparent' });
    xAxis.push({
      type: 'log', logBase: 10, gridIndex: gm, min: F_MIN, max: F_MAX, splitNumber: 10,
      axisLine: { show: false }, axisTick: { show: false }, splitLine: { show: false },
      axisLabel: { formatter: powLabel, rich: powRich, margin: 6, showMinLabel: false, showMaxLabel: false },
      name: 'Freq [Hz]', nameLocation: 'middle', nameGap: 20, nameTextStyle: nameStyle,
    });
    yAxis.push({
      type: 'log', logBase: 10, gridIndex: gm, min: yMin, max: yMax, splitNumber: 10,
      axisLine: { show: false }, axisTick: { show: false }, splitLine: { show: false },
      axisLabel: { formatter: powLabel, rich: powRich, margin: 5, showMinLabel: false, showMaxLabel: false },
      name: 'sqrt(PSD)', nameLocation: 'middle', nameGap: 21, nameTextStyle: nameStyle,
    });
    series.push({
      type: 'line', name: SERIES_NAMES[0], xAxisIndex: gm, yAxisIndex: gm, z: 3, silent: true, symbol: 'none',
      data: PSD_BLUES[r].map(([lf, e]) => [Math.pow(10, lf), Math.pow(10, e)]),
      lineStyle: { color: PSD_BLUE, width: 2 },
      markArea: {
        silent: true, z: 0,
        itemStyle: { color: BAND_FILL },
        data: [[{ xAxis: BANDS[r][0] }, { xAxis: BANDS[r][1] }]],
      },
      markLine: {
        silent: true, z: 1, symbol: ['none', 'none'], label: { show: false }, precision: 20,
        data: [...logLines(F_MIN, F_MAX, 'xAxis'), ...logLines(yMin, yMax, 'yAxis')],
      },
    });
    series.push({
      type: 'line', name: SERIES_NAMES[1], xAxisIndex: gm, yAxisIndex: gm, z: 4, silent: true, symbol: 'none',
      data: PSD_REDS[r].map(([lf, e]) => [Math.pow(10, lf), Math.pow(10, e)]),
      lineStyle: { color: PSD_RED, width: 2 },
    });
    graphic.push(...legendGraphic(lay.M[0] + lay.M[2] - 103, lay.M[1] + 3, 100, 27, 2.5, PSD_BLUE, PSD_RED));
    if (r === 0) {
      graphic.push({
        type: 'text', x: lay.M[0] + lay.M[2] / 2, y: 13, z: 100,
        style: { text: 'Filtered', fontFamily: FONT, fontSize: 8, fill: TXT, align: 'center', verticalAlign: 'middle', textAlign: 'center', textVerticalAlign: 'middle' },
      });
    }

    // ---------- right: cross-correlation ----------
    const gr = grid.length;
    grid.push({ left: lay.R[0], top: lay.R[1], width: lay.R[2], height: lay.R[3], show: true, borderColor: '#8c8c8c', borderWidth: 1, backgroundColor: 'transparent' });
    xAxis.push({
      type: 'value', gridIndex: gr, min: -1, max: 1, interval: 0.2,
      axisLine: { show: false }, axisTick: { show: false },
      axisLabel: { ...tickLabel, margin: 5 },
      splitLine: gridLine,
      name: 'Time Lag [sample]', nameLocation: 'middle', nameGap: 15, nameTextStyle: nameStyle,
    });
    yAxis.push({
      type: 'value', gridIndex: gr, min: -0.5, max: 0.5, interval: 0.1,
      axisLine: { show: false }, axisTick: { show: false },
      axisLabel: { ...tickLabel, margin: 5 },
      splitLine: gridLine,
      name: 'Cross-correlation Factor', nameLocation: 'middle', nameGap: 19, nameTextStyle: nameStyle,
    });
    const ccEnv = XCORR_ENVS[r];
    [1, -1].forEach((sg) => {
      series.push({
        type: 'line', name: 'xcorr', xAxisIndex: gr, yAxisIndex: gr, z: 3, silent: true, symbol: 'none',
        data: ccEnv.map((v, i) => [XCORR_LAG[i], sg * v]),
        lineStyle: { color: BLUE, width: 0.8 }, areaStyle: { color: BLUE, opacity: 1 },
      });
    });
    series.push({
      type: 'custom', name: 'xcorr peaks', xAxisIndex: gr, yAxisIndex: gr, z: 4, silent: true, clip: true,
      renderItem: spikeRenderer(BLUE, 1), encode: { x: 0, y: 1 },
      data: XCORR_SPIKES[r],
    });
    const expY = Math.min(lay.R[1] + lay.R[3] + 26, PAGE_H - 8);
    graphic.push(expText(lay.R[0] + lay.R[2] - 16, expY, '5'));

    // ---------- row label ----------
    graphic.push({
      type: 'text', x: 22, y: lay.labelY, rotation: Math.PI / 2, scaleX: 0.76, z: 100,
      style: {
        text: ROW_LABELS[r], fontFamily: FONT, fontWeight: 'bold', fontSize: 35, fill: '#111',
        align: 'center', verticalAlign: 'middle', textAlign: 'center', textVerticalAlign: 'middle',
      },
    });
  });

  return {
    animation: false,
    backgroundColor: '#ffffff',
    textStyle: { fontFamily: FONT },
    grid, xAxis, yAxis, series, graphic,
  };
}

export default function App() {
  const ref = useRef<HTMLDivElement>(null);
  useEffect(() => {
    if (!ref.current) return;
    const chart = echarts.init(ref.current, null, { renderer: 'svg' });
    chart.setOption(buildOption() as any);
    return () => chart.dispose();
  }, []);
  return (
    <div
      ref={ref}
      style={{ position: 'absolute', left: 0, top: 0, width: 1203, height: 1695, background: '#fff' }}
    />
  );
}
